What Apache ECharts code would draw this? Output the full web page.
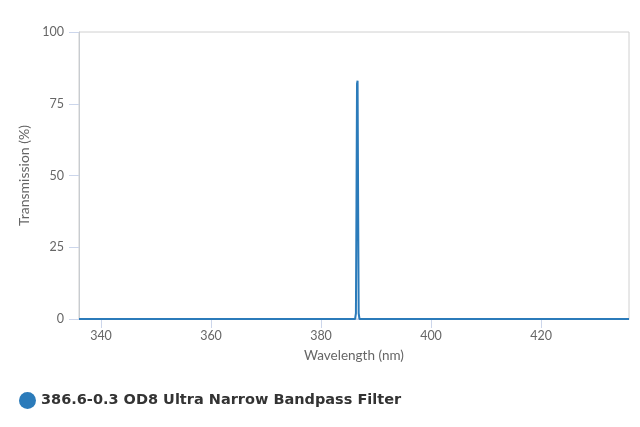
<!DOCTYPE html>
<html>
<head>
<meta charset="utf-8">
<script src="https://cdn.jsdelivr.net/npm/echarts@6/dist/echarts.min.js"></script>
<style>
  html, body { margin: 0; padding: 0; background: #fff; }
  #chartmain { width: 640px; height: 427px; }
</style>
</head>
<body>
<div id="chartmain"></div>
<script>
	// 数据：波长 (nm) 与透过率 (%)
	var seriesName = '386.6-0.3 OD8 Ultra Narrow Bandpass Filter';
	var wavelength = [336, 386.2, 386.35, 386.45, 386.55, 386.65, 386.75, 386.85, 387.0, 436];
	var transmission = [0, 0, 2, 40, 82, 83, 40, 2, 0, 0];
	var xTicks = [340, 360, 380, 400, 420];

	var lineData = [];
	for (var i = 0; i < wavelength.length; i++) {
		lineData.push([wavelength[i], transmission[i]]);
	}

	var myChart = echarts.init(document.getElementById('chartmain'));
	var option = {
		animation : false,
		legend : {
			left : 14,
			top : 387,
			icon : 'circle',
			itemWidth : 17,
			itemHeight : 17,
			textStyle : {
				fontFamily : 'DejaVu Sans',
				fontWeight : 'bold',
				fontSize : 14.5,
				color : '#333'
			},
			data : [ seriesName ]
		},
		grid : {
			show : true,
			left : 79,
			right : 11,
			top : 32,
			bottom : 108,
			borderColor : '#d0d0d0',
			borderWidth : 1
		},
		xAxis : {
			type : 'value',
			min : 336,
			max : 436,
			name : 'Wavelength (nm)',
			nameLocation : 'middle',
			nameGap : 30,
			nameTextStyle : { fontFamily : 'Lato', fontSize : 13.5, color : '#666' },
			axisLine : { show : true, lineStyle : { color : '#ccd6eb' } },
			axisTick : { show : true, length : 9, customValues : xTicks, lineStyle : { color : '#ccd6eb' } },
			axisLabel : { customValues : xTicks, margin : 10, fontFamily : 'Lato', fontSize : 12.5, color : '#666' },
			splitLine : { show : false }
		},
		yAxis : {
			type : 'value',
			min : 0,
			max : 100,
			interval : 25,
			name : 'Transmission (%)',
			nameLocation : 'middle',
			nameGap : 48,
			nameTextStyle : { fontFamily : 'Lato', fontSize : 14, color : '#666' },
			axisLine : { show : true, lineStyle : { color : '#c8ccd0' } },
			axisTick : { show : true, inside : false, length : 10, lineStyle : { color : '#ccd6eb' } },
			axisLabel : { margin : 15, fontFamily : 'Lato', fontSize : 12.5, color : '#666' },
			splitLine : { show : false }
		},
		series : [ {
			name : seriesName,
			type : 'line',
			showSymbol : false,
			color : '#2b7bba',
			lineStyle : { width : 2, color : '#2b7bba' },
			data : lineData
		} ]
	};
	myChart.setOption(option);
</script>
</body>
</html>
